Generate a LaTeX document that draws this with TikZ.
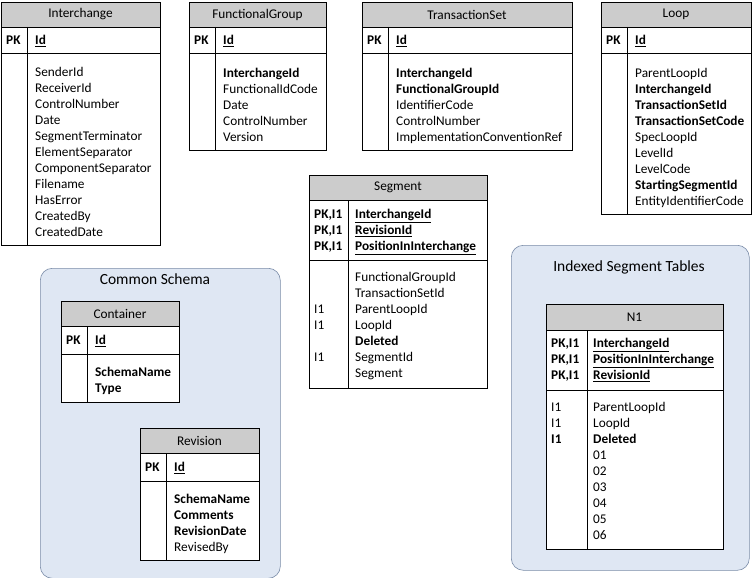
\documentclass[tikz,border=0pt]{standalone}
\usepackage{fontspec}
\setmainfont{Carlito}
\definecolor{grpfill}{HTML}{DFE7F3}
\definecolor{grpline}{HTML}{7A8CA8}
\begin{document}
\begin{tikzpicture}[x=1pt,y=-1pt,
  grp/.style={draw=grpline,fill=grpfill,rounded corners=12pt,line width=0.6pt},
  hdr/.style={draw=black,fill=black!20,line width=0.6pt},
  tbl/.style={draw=black,fill=white,line width=0.6pt},
  t/.style={anchor=base west,inner sep=0pt,font=\fontsize{13.3}{15}\selectfont},
  ttl/.style={anchor=center,inner sep=0pt,font=\fontsize{13.3}{15}\selectfont},
  gttl/.style={anchor=center,inner sep=0pt,font=\fontsize{15.5}{17}\selectfont}]
\useasboundingbox (0,0) rectangle (756,578);
\newcommand{\ertable}[9]{%
  \node[tbl,minimum width=#3-#2,minimum height=#7-#4,anchor=north west,inner sep=0pt] (#1) at (#2,#4) {};
  \node[hdr,minimum width=#3-#2,minimum height=#5-#4,anchor=north west,inner sep=0pt] (#1h) at (#2,#4) {};
  \node[ttl] (#1t) at ({(#2+#3)/2},{(#4+#5)/2}) {#9};
  \draw[line width=0.6pt] (#2,#6) -- (#3,#6);
  \draw[line width=0.6pt] (#8,#5) -- (#8,#7);}
\newcommand{\tx}[4]{\node[t] (#1) at (#2,#3+4.5) {#4};}
% groups
\node[grp,minimum width=240,minimum height=310,anchor=north west,inner sep=0pt] (cs) at (40,268) {};
\node[gttl] (cst) at (155,279) {Common Schema};
\node[grp,minimum width=238,minimum height=325,anchor=north west,inner sep=0pt] (ist) at (511,245) {};
\node[gttl] (istt) at (629,267) {Indexed Segment Tables};
% Interchange
\ertable{ic}{1}{160}{2}{27}{53}{245}{27}{Interchange}
\tx{ic1}{6}{40}{\textbf{PK}}\tx{ic2}{35}{40}{\textbf{\underline{Id}}}
\tx{ic3}{35}{72}{SenderId}\tx{ic4}{35}{88}{ReceiverId}\tx{ic5}{35}{104}{ControlNumber}
\tx{ic6}{35}{120}{Date}\tx{ic7}{35}{136}{SegmentTerminator}\tx{ic8}{35}{152}{ElementSeparator}
\tx{ic9}{35}{168}{ComponentSeparator}\tx{ic10}{35}{184}{Filename}\tx{ic11}{35}{200}{HasError}
\tx{ic12}{35}{216}{CreatedBy}\tx{ic13}{35}{232}{CreatedDate}
% FunctionalGroup
\ertable{fg}{189}{326}{2}{27}{53}{150}{215}{FunctionalGroup}
\tx{fg1}{194}{40}{\textbf{PK}}\tx{fg2}{223}{40}{\textbf{\underline{Id}}}
\tx{fg3}{223}{73}{\textbf{InterchangeId}}\tx{fg4}{223}{89}{FunctionalIdCode}
\tx{fg5}{223}{105}{Date}\tx{fg6}{223}{121}{ControlNumber}\tx{fg7}{223}{137}{Version}
% TransactionSet
\ertable{ts}{362}{572}{2}{27}{53}{150}{388}{TransactionSet}
\tx{ts1}{367}{40}{\textbf{PK}}\tx{ts2}{396}{40}{\textbf{\underline{Id}}}
\tx{ts3}{396}{73}{\textbf{InterchangeId}}\tx{ts4}{396}{89}{\textbf{FunctionalGroupId}}
\tx{ts5}{396}{105}{IdentifierCode}\tx{ts6}{396}{121}{ControlNumber}\tx{ts7}{396}{137}{ImplementationConventionRef}
% Loop
\ertable{lp}{601}{751}{2}{27}{53}{214}{627}{Loop}
\tx{lp1}{606}{40}{\textbf{PK}}\tx{lp2}{635}{40}{\textbf{\underline{Id}}}
\tx{lp3}{635}{73}{ParentLoopId}\tx{lp4}{635}{89}{\textbf{InterchangeId}}
\tx{lp5}{635}{105}{\textbf{TransactionSetId}}\tx{lp6}{635}{121}{\textbf{TransactionSetCode}}
\tx{lp7}{635}{137}{SpecLoopId}\tx{lp8}{635}{153}{LevelId}\tx{lp9}{635}{169}{LevelCode}
\tx{lp10}{635}{185}{\textbf{StartingSegmentId}}\tx{lp11}{635}{201}{EntityIdentifierCode}
% Segment
\ertable{sg}{309}{487}{175}{200}{260}{388}{348}{Segment}
\tx{sg1}{314}{214}{\textbf{PK,I1}}\tx{sg2}{355}{214}{\textbf{\underline{InterchangeId}}}
\tx{sg3}{314}{230}{\textbf{PK,I1}}\tx{sg4}{355}{230}{\textbf{\underline{RevisionId}}}
\tx{sg5}{314}{246}{\textbf{PK,I1}}\tx{sg6}{355}{246}{\textbf{\underline{PositionInInterchange}}}
\tx{sg7}{355}{277}{FunctionalGroupId}\tx{sg8}{355}{293}{TransactionSetId}
\tx{sg9}{314}{309}{I1}\tx{sg10}{355}{309}{ParentLoopId}
\tx{sg11}{314}{325}{I1}\tx{sg12}{355}{325}{LoopId}
\tx{sg13}{355}{341}{\textbf{Deleted}}
\tx{sg14}{314}{357}{I1}\tx{sg15}{355}{357}{SegmentId}
\tx{sg16}{355}{373}{Segment}
% Container
\ertable{ct}{61}{179}{301}{326}{354}{402}{87}{Container}
\tx{ct1}{66}{340}{\textbf{PK}}\tx{ct2}{95}{340}{\textbf{\underline{Id}}}
\tx{ct3}{95}{372}{\textbf{SchemaName}}\tx{ct4}{95}{388}{\textbf{Type}}
% Revision
\ertable{rv}{140}{259}{428}{453}{481}{560}{166}{Revision}
\tx{rv1}{145}{467}{\textbf{PK}}\tx{rv2}{174}{467}{\textbf{\underline{Id}}}
\tx{rv3}{174}{499}{\textbf{SchemaName}}\tx{rv4}{174}{515}{\textbf{Comments}}
\tx{rv5}{174}{531}{\textbf{RevisionDate}}\tx{rv6}{174}{547}{RevisedBy}
% N1
\ertable{n1}{546}{723}{304}{330}{390}{549}{587}{N1}
\tx{n1a}{551}{343}{\textbf{PK,I1}}\tx{n1b}{593}{343}{\textbf{\underline{InterchangeId}}}
\tx{n1c}{551}{359}{\textbf{PK,I1}}\tx{n1d}{593}{359}{\textbf{\underline{PositionInInterchange}}}
\tx{n1e}{551}{375}{\textbf{PK,I1}}\tx{n1f}{593}{375}{\textbf{\underline{RevisionId}}}
\tx{n1g}{551}{407}{I1}\tx{n1h}{593}{407}{ParentLoopId}
\tx{n1i}{551}{423}{I1}\tx{n1j}{593}{423}{LoopId}
\tx{n1k}{551}{439}{\textbf{I1}}\tx{n1l}{593}{439}{\textbf{Deleted}}
\tx{n1m}{593}{455}{01}\tx{n1n}{593}{471}{02}\tx{n1o}{593}{487}{03}
\tx{n1p}{593}{503}{04}\tx{n1q}{593}{519}{05}\tx{n1r}{593}{535}{06}
\end{tikzpicture}
\end{document}
